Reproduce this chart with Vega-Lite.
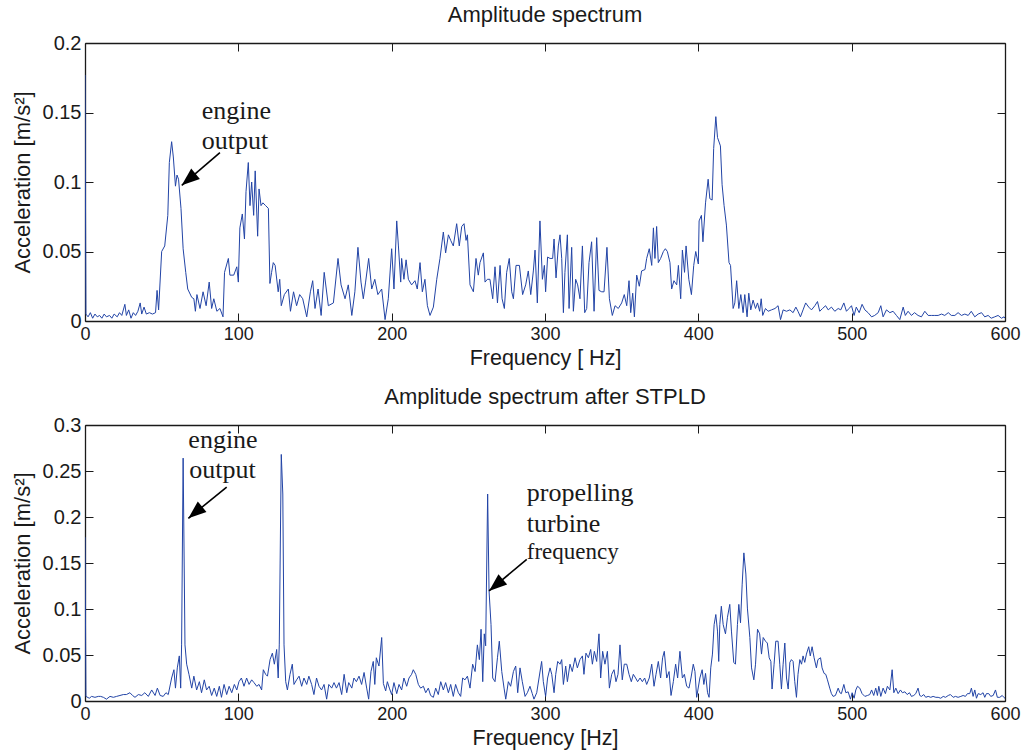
{
"$schema": "https://vega.github.io/schema/vega-lite/v6.json",
"background": "white",
"padding": {"left": 11, "top": 4, "right": 12, "bottom": 2},
"spacing": 17,
"config": {
  "font": "Liberation Sans",
  "view": {"stroke": null},
  "axis": {"domainColor": "#1a1a1a", "domainWidth": 1.3, "tickColor": "#1a1a1a", "tickSize": -8, "tickWidth": 1, "labelFont": "Liberation Sans", "labelFontSize": 18, "labelColor": "#1a1a1a", "titleFont": "Liberation Sans", "titleFontWeight": "normal", "titleColor": "#1a1a1a", "grid": false, "labelFlush": false, "labelOverlap": false},
  "axisX": {"labelPadding": 12},
  "axisY": {"labelPadding": 12},
  "title": {"font": "Liberation Sans", "fontSize": 22, "fontWeight": "normal", "color": "#1a1a1a", "anchor": "middle", "offset": 6}
},
"datasets": {
"top": [
{"f":0,"a":0.177},{"f":0.6,"a":0.005},{"f":2,"a":0.003},{"f":3.5,"a":0.006},{"f":5,"a":0.002},{"f":6.5,"a":0.005},{"f":8,"a":0.003},{"f":9.5,"a":0.004},{"f":11,"a":0.002},{"f":12.5,"a":0.005},{"f":14,"a":0.003},{"f":16,"a":0.004},{"f":17.5,"a":0.002},{"f":19,"a":0.005},{"f":21,"a":0.003},{"f":22.5,"a":0.006},{"f":24,"a":0.004},{"f":26,"a":0.012},{"f":27,"a":0.004},{"f":28.5,"a":0.008},{"f":30,"a":0.002},{"f":31.5,"a":0.006},{"f":33,"a":0.004},{"f":34.5,"a":0.007},{"f":36,"a":0.013},{"f":37,"a":0.005},{"f":38.5,"a":0.01},{"f":40,"a":0.005},{"f":42,"a":0.006},{"f":44,"a":0.005},{"f":46,"a":0.006},{"f":47,"a":0.022},{"f":48,"a":0.008},{"f":50,"a":0.05},{"f":52,"a":0.054},{"f":54,"a":0.076},{"f":55,"a":0.114},{"f":56.5,"a":0.129},{"f":57.6,"a":0.118},{"f":59,"a":0.097},{"f":60,"a":0.105},{"f":61,"a":0.102},{"f":62.6,"a":0.081},{"f":64,"a":0.052},{"f":65.7,"a":0.035},{"f":67,"a":0.023},{"f":69.6,"a":0.017},{"f":71,"a":0.016},{"f":72,"a":0.007},{"f":73,"a":0.019},{"f":75,"a":0.009},{"f":77,"a":0.021},{"f":79,"a":0.011},{"f":81,"a":0.028},{"f":82.6,"a":0.009},{"f":84,"a":0.016},{"f":86,"a":0.007},{"f":88,"a":0.009},{"f":90,"a":0.003},{"f":91,"a":0.035},{"f":93.5,"a":0.045},{"f":94.5,"a":0.033},{"f":97,"a":0.033},{"f":99,"a":0.039},{"f":100,"a":0.028},{"f":101,"a":0.067},{"f":102.6,"a":0.077},{"f":104,"a":0.059},{"f":105,"a":0.093},{"f":106.5,"a":0.114},{"f":107.6,"a":0.083},{"f":108.7,"a":0.1},{"f":110,"a":0.076},{"f":111,"a":0.108},{"f":112.6,"a":0.061},{"f":113.5,"a":0.095},{"f":114.8,"a":0.083},{"f":116,"a":0.085},{"f":117.8,"a":0.083},{"f":119.6,"a":0.081},{"f":120.6,"a":0.027},{"f":121.7,"a":0.035},{"f":122.8,"a":0.042},{"f":124,"a":0.04},{"f":126,"a":0.021},{"f":127,"a":0.03},{"f":128,"a":0.011},{"f":130,"a":0.019},{"f":132.6,"a":0.023},{"f":134,"a":0.007},{"f":136,"a":0.021},{"f":138,"a":0.011},{"f":140,"a":0.019},{"f":142,"a":0.016},{"f":144.6,"a":0.003},{"f":147,"a":0.021},{"f":148.5,"a":0.029},{"f":150,"a":0.009},{"f":152,"a":0.023},{"f":154,"a":0.004},{"f":156,"a":0.035},{"f":158.7,"a":0.011},{"f":162,"a":0.013},{"f":165,"a":0.045},{"f":167,"a":0.026},{"f":169.6,"a":0.016},{"f":171.7,"a":0.026},{"f":174,"a":0.004},{"f":176,"a":0.021},{"f":178,"a":0.053},{"f":180,"a":0.028},{"f":181.5,"a":0.016},{"f":183,"a":0.028},{"f":185,"a":0.045},{"f":187,"a":0.023},{"f":189,"a":0.03},{"f":191,"a":0.019},{"f":193.5,"a":0.023},{"f":195.7,"a":0.001},{"f":197.8,"a":0.016},{"f":200,"a":0.052},{"f":201.5,"a":0.023},{"f":203.3,"a":0.072},{"f":204.4,"a":0.054},{"f":205.9,"a":0.028},{"f":206.5,"a":0.045},{"f":208,"a":0.03},{"f":209.4,"a":0.044},{"f":210.9,"a":0.03},{"f":213,"a":0.026},{"f":215.2,"a":0.029},{"f":216.7,"a":0.023},{"f":218.5,"a":0.042},{"f":220,"a":0.021},{"f":221.7,"a":0.03},{"f":223.3,"a":0.011},{"f":225,"a":0.004},{"f":227.2,"a":0.01},{"f":229.4,"a":0.03},{"f":231.5,"a":0.045},{"f":233.7,"a":0.064},{"f":235.2,"a":0.049},{"f":237,"a":0.062},{"f":238.5,"a":0.058},{"f":240.2,"a":0.054},{"f":242.4,"a":0.07},{"f":244.1,"a":0.054},{"f":245.7,"a":0.068},{"f":247.2,"a":0.07},{"f":248.5,"a":0.058},{"f":249.4,"a":0.062},{"f":251.1,"a":0.026},{"f":253.3,"a":0.021},{"f":255,"a":0.045},{"f":256.5,"a":0.033},{"f":257.6,"a":0.042},{"f":259.8,"a":0.049},{"f":260.9,"a":0.028},{"f":262.4,"a":0.03},{"f":264.1,"a":0.03},{"f":265.9,"a":0.016},{"f":267.4,"a":0.039},{"f":269,"a":0.013},{"f":270.7,"a":0.04},{"f":272,"a":0.016},{"f":273.5,"a":0.009},{"f":275,"a":0.035},{"f":276.7,"a":0.045},{"f":278.3,"a":0.021},{"f":279.4,"a":0.016},{"f":281.1,"a":0.04},{"f":283.3,"a":0.04},{"f":285.4,"a":0.019},{"f":287.4,"a":0.026},{"f":289.1,"a":0.036},{"f":290.7,"a":0.019},{"f":292.4,"a":0.036},{"f":293.5,"a":0.051},{"f":295,"a":0.013},{"f":296.7,"a":0.072},{"f":298.3,"a":0.03},{"f":299.6,"a":0.04},{"f":300.4,"a":0.021},{"f":301.7,"a":0.046},{"f":303.3,"a":0.045},{"f":305,"a":0.045},{"f":305.9,"a":0.059},{"f":307.2,"a":0.031},{"f":308.7,"a":0.054},{"f":309.8,"a":0.062},{"f":310.9,"a":0.045},{"f":312,"a":0.006},{"f":313,"a":0.035},{"f":314.6,"a":0.062},{"f":315.7,"a":0.009},{"f":317.4,"a":0.053},{"f":318.5,"a":0.007},{"f":320,"a":0.03},{"f":321.3,"a":0.026},{"f":322.8,"a":0.016},{"f":324.4,"a":0.054},{"f":325.9,"a":0.006},{"f":327.2,"a":0.009},{"f":328.7,"a":0.042},{"f":330.4,"a":0.057},{"f":332,"a":0.007},{"f":333.7,"a":0.06},{"f":335.2,"a":0.022},{"f":337,"a":0.021},{"f":338.5,"a":0.021},{"f":340.4,"a":0.053},{"f":342,"a":0.016},{"f":343.9,"a":0.004},{"f":345.7,"a":0.011},{"f":347.8,"a":0.009},{"f":350,"a":0.013},{"f":351.7,"a":0.019},{"f":353.3,"a":0.011},{"f":354.8,"a":0.029},{"f":355.9,"a":0.006},{"f":357.2,"a":0.02},{"f":358.3,"a":0.003},{"f":359.8,"a":0.033},{"f":361.5,"a":0.025},{"f":363,"a":0.036},{"f":365.2,"a":0.037},{"f":366.3,"a":0.045},{"f":368,"a":0.052},{"f":369.6,"a":0.04},{"f":370.7,"a":0.067},{"f":371.7,"a":0.045},{"f":372.8,"a":0.068},{"f":373.9,"a":0.042},{"f":375.4,"a":0.045},{"f":377.2,"a":0.05},{"f":378.5,"a":0.052},{"f":379.8,"a":0.05},{"f":381.5,"a":0.042},{"f":382.6,"a":0.023},{"f":384.1,"a":0.029},{"f":385.9,"a":0.026},{"f":387,"a":0.04},{"f":388.5,"a":0.016},{"f":389.6,"a":0.051},{"f":391,"a":0.035},{"f":392,"a":0.054},{"f":393.8,"a":0.03},{"f":395.5,"a":0.019},{"f":397,"a":0.04},{"f":398.3,"a":0.05},{"f":400,"a":0.041},{"f":400.5,"a":0.072},{"f":402,"a":0.076},{"f":403,"a":0.057},{"f":404.7,"a":0.085},{"f":406.4,"a":0.102},{"f":407.5,"a":0.088},{"f":409,"a":0.087},{"f":410,"a":0.124},{"f":411.4,"a":0.147},{"f":412.5,"a":0.132},{"f":414.4,"a":0.126},{"f":415.5,"a":0.098},{"f":416.8,"a":0.083},{"f":418.3,"a":0.069},{"f":420,"a":0.042},{"f":421,"a":0.04},{"f":422.7,"a":0.009},{"f":423.8,"a":0.013},{"f":425,"a":0.029},{"f":426.4,"a":0.009},{"f":427.7,"a":0.019},{"f":429.2,"a":0.006},{"f":430.3,"a":0.019},{"f":431.8,"a":0.003},{"f":432.9,"a":0.02},{"f":434.2,"a":0.008},{"f":435.7,"a":0.015},{"f":437.3,"a":0.009},{"f":438.6,"a":0.013},{"f":440,"a":0.007},{"f":441,"a":0.016},{"f":442,"a":0.004},{"f":443.8,"a":0.009},{"f":445.5,"a":0.007},{"f":447.7,"a":0.008},{"f":450,"a":0.009},{"f":452,"a":0.011},{"f":453.6,"a":0.001},{"f":455.3,"a":0.008},{"f":457.5,"a":0.007},{"f":459.7,"a":0.008},{"f":461.8,"a":0.006},{"f":463.6,"a":0.01},{"f":465,"a":0.007},{"f":466.6,"a":0.003},{"f":468.3,"a":0.008},{"f":470,"a":0.013},{"f":472,"a":0.01},{"f":473.8,"a":0.008},{"f":476,"a":0.011},{"f":477.7,"a":0.014},{"f":479.2,"a":0.007},{"f":481,"a":0.009},{"f":483,"a":0.011},{"f":484.7,"a":0.008},{"f":486.8,"a":0.01},{"f":489,"a":0.007},{"f":491.2,"a":0.009},{"f":492.9,"a":0.008},{"f":494.9,"a":0.013},{"f":496.6,"a":0.007},{"f":498.3,"a":0.009},{"f":499.9,"a":0.011},{"f":501.6,"a":0.004},{"f":503,"a":0.01},{"f":504.9,"a":0.006},{"f":506.8,"a":0.012},{"f":508.6,"a":0.008},{"f":510.7,"a":0.006},{"f":513,"a":0.003},{"f":515,"a":0.004},{"f":517.3,"a":0.006},{"f":519,"a":0.011},{"f":520.5,"a":0.003},{"f":522.7,"a":0.008},{"f":524.9,"a":0.006},{"f":527,"a":0.007},{"f":529.2,"a":0.004},{"f":531.4,"a":0.001},{"f":533.6,"a":0.01},{"f":535,"a":0.004},{"f":536.8,"a":0.007},{"f":539,"a":0.004},{"f":541,"a":0.006},{"f":543.3,"a":0.004},{"f":545.5,"a":0.003},{"f":547.7,"a":0.007},{"f":549.9,"a":0.004},{"f":552,"a":0.004},{"f":554.2,"a":0.004},{"f":556.4,"a":0.004},{"f":558.6,"a":0.005},{"f":560.7,"a":0.004},{"f":563,"a":0.006},{"f":565,"a":0.004},{"f":567.3,"a":0.004},{"f":569.4,"a":0.006},{"f":571.6,"a":0.004},{"f":573.8,"a":0.005},{"f":576,"a":0.004},{"f":578,"a":0.007},{"f":580.3,"a":0.003},{"f":582.5,"a":0.005},{"f":584.7,"a":0.006},{"f":586.8,"a":0.003},{"f":589,"a":0.004},{"f":591,"a":0.002},{"f":593.3,"a":0.003},{"f":595.5,"a":0.004},{"f":597.7,"a":0.002},{"f":599.4,"a":0.003},{"f":600,"a":0.002}
],
"bottom": [
{"f":0,"a":0.178},{"f":0.6,"a":0.005},{"f":2.8,"a":0.003},{"f":4.3,"a":0.005},{"f":6.5,"a":0.004},{"f":8.7,"a":0.005},{"f":10.2,"a":0.005},{"f":12,"a":0.004},{"f":14,"a":0.002},{"f":16.3,"a":0.005},{"f":18.5,"a":0.004},{"f":20.6,"a":0.005},{"f":22.8,"a":0.006},{"f":25,"a":0.007},{"f":27,"a":0.007},{"f":29.3,"a":0.009},{"f":31,"a":0.006},{"f":32.6,"a":0.004},{"f":34.8,"a":0.007},{"f":37,"a":0.006},{"f":39,"a":0.009},{"f":41.3,"a":0.005},{"f":43.5,"a":0.012},{"f":45.7,"a":0.006},{"f":47.2,"a":0.014},{"f":49,"a":0.006},{"f":51,"a":0.005},{"f":52.8,"a":0.009},{"f":54.3,"a":0.007},{"f":56.5,"a":0.025},{"f":58,"a":0.034},{"f":59,"a":0.014},{"f":60.2,"a":0.036},{"f":61.5,"a":0.049},{"f":62.4,"a":0.014},{"f":63,"a":0.061},{"f":64,"a":0.264},{"f":65.2,"a":0.061},{"f":66.3,"a":0.04},{"f":67.8,"a":0.029},{"f":69.6,"a":0.014},{"f":71,"a":0.027},{"f":72.8,"a":0.012},{"f":74.6,"a":0.021},{"f":76,"a":0.009},{"f":77.8,"a":0.023},{"f":79.3,"a":0.012},{"f":81,"a":0.016},{"f":82.6,"a":0.006},{"f":84.3,"a":0.014},{"f":85.9,"a":0.005},{"f":87.6,"a":0.016},{"f":89,"a":0.004},{"f":90.7,"a":0.018},{"f":92.4,"a":0.007},{"f":94,"a":0.016},{"f":95.7,"a":0.009},{"f":97.4,"a":0.018},{"f":99,"a":0.012},{"f":100.4,"a":0.021},{"f":102,"a":0.025},{"f":103.7,"a":0.016},{"f":105.4,"a":0.025},{"f":107,"a":0.018},{"f":108.7,"a":0.023},{"f":110.2,"a":0.02},{"f":112,"a":0.016},{"f":113.5,"a":0.018},{"f":115.2,"a":0.012},{"f":116.3,"a":0.034},{"f":117.8,"a":0.029},{"f":119,"a":0.027},{"f":120.7,"a":0.045},{"f":122.2,"a":0.052},{"f":123.5,"a":0.04},{"f":125,"a":0.056},{"f":126,"a":0.025},{"f":126.7,"a":0.061},{"f":128,"a":0.268},{"f":129,"a":0.225},{"f":129.8,"a":0.061},{"f":130.9,"a":0.021},{"f":132,"a":0.012},{"f":133.7,"a":0.029},{"f":135.2,"a":0.04},{"f":136.3,"a":0.018},{"f":138,"a":0.023},{"f":139.6,"a":0.027},{"f":141.3,"a":0.016},{"f":142.8,"a":0.025},{"f":144.6,"a":0.018},{"f":146,"a":0.027},{"f":147.8,"a":0.018},{"f":149.3,"a":0.007},{"f":151,"a":0.025},{"f":152.6,"a":0.016},{"f":154.3,"a":0.012},{"f":155.9,"a":0.018},{"f":157.6,"a":0.002},{"f":159,"a":0.018},{"f":160.9,"a":0.014},{"f":162.4,"a":0.02},{"f":164,"a":0.014},{"f":165.7,"a":0.02},{"f":167.4,"a":0.007},{"f":169,"a":0.029},{"f":170.7,"a":0.009},{"f":172,"a":0.02},{"f":174,"a":0.014},{"f":175.4,"a":0.025},{"f":177,"a":0.021},{"f":178.7,"a":0.027},{"f":180.4,"a":0.018},{"f":182,"a":0.031},{"f":183.7,"a":0.014},{"f":185,"a":0.002},{"f":186.5,"a":0.032},{"f":188,"a":0.043},{"f":189,"a":0.018},{"f":190,"a":0.047},{"f":191.7,"a":0.038},{"f":193.5,"a":0.069},{"f":194.6,"a":0.019},{"f":196.1,"a":0.011},{"f":197.2,"a":0.021},{"f":198.5,"a":0.014},{"f":200,"a":0.007},{"f":201.5,"a":0.02},{"f":203.3,"a":0.008},{"f":204.8,"a":0.018},{"f":206.5,"a":0.012},{"f":208,"a":0.025},{"f":209.8,"a":0.016},{"f":211.3,"a":0.025},{"f":213,"a":0.029},{"f":214.1,"a":0.034},{"f":215.7,"a":0.029},{"f":217.4,"a":0.018},{"f":218.9,"a":0.014},{"f":220.7,"a":0.016},{"f":222.2,"a":0.009},{"f":223.9,"a":0.014},{"f":225.4,"a":0.006},{"f":227.2,"a":0.004},{"f":228.7,"a":0.014},{"f":230.4,"a":0.007},{"f":232,"a":0.021},{"f":233.7,"a":0.012},{"f":235.2,"a":0.02},{"f":237,"a":0.009},{"f":238.5,"a":0.018},{"f":240.2,"a":0.005},{"f":241.7,"a":0.018},{"f":243.5,"a":0.009},{"f":245,"a":0.005},{"f":246.3,"a":0.025},{"f":247.8,"a":0.023},{"f":249.4,"a":0.027},{"f":251.1,"a":0.014},{"f":252.8,"a":0.04},{"f":254.4,"a":0.032},{"f":255.9,"a":0.061},{"f":257.2,"a":0.045},{"f":258.3,"a":0.078},{"f":259.4,"a":0.021},{"f":260.4,"a":0.073},{"f":261.3,"a":0.06},{"f":262.6,"a":0.225},{"f":263.5,"a":0.12},{"f":264.8,"a":0.083},{"f":265.9,"a":0.025},{"f":267.4,"a":0.021},{"f":269,"a":0.047},{"f":270.2,"a":0.065},{"f":271.8,"a":0.032},{"f":273.3,"a":0.014},{"f":274.4,"a":0.002},{"f":276.1,"a":0.021},{"f":277.6,"a":0.016},{"f":279.4,"a":0.032},{"f":280.9,"a":0.038},{"f":282.2,"a":0.009},{"f":283.7,"a":0.036},{"f":285.2,"a":0.021},{"f":287,"a":0.005},{"f":288.5,"a":0.009},{"f":290.2,"a":0.016},{"f":291.7,"a":0.008},{"f":292.8,"a":0.002},{"f":294.6,"a":0.009},{"f":296.1,"a":0.025},{"f":297.8,"a":0.043},{"f":298.9,"a":0.021},{"f":300.4,"a":0.005},{"f":301.7,"a":0.025},{"f":303.3,"a":0.036},{"f":304.4,"a":0.029},{"f":305.9,"a":0.009},{"f":307,"a":0.029},{"f":308.3,"a":0.043},{"f":309.8,"a":0.04},{"f":310.9,"a":0.045},{"f":312,"a":0.018},{"f":313.5,"a":0.038},{"f":314.6,"a":0.021},{"f":316.3,"a":0.04},{"f":317.8,"a":0.032},{"f":319.6,"a":0.047},{"f":321.1,"a":0.036},{"f":322.8,"a":0.045},{"f":324.4,"a":0.049},{"f":325.4,"a":0.029},{"f":326.7,"a":0.052},{"f":328.3,"a":0.047},{"f":329.8,"a":0.056},{"f":330.9,"a":0.04},{"f":332.2,"a":0.054},{"f":333.7,"a":0.043},{"f":335.2,"a":0.073},{"f":336.3,"a":0.025},{"f":337.6,"a":0.054},{"f":339.1,"a":0.04},{"f":340.7,"a":0.054},{"f":342,"a":0.014},{"f":343.5,"a":0.029},{"f":345,"a":0.034},{"f":346.3,"a":0.021},{"f":347.6,"a":0.029},{"f":348.9,"a":0.061},{"f":350.4,"a":0.023},{"f":351.7,"a":0.04},{"f":353.3,"a":0.04},{"f":354.8,"a":0.029},{"f":356.3,"a":0.021},{"f":357.6,"a":0.029},{"f":359.1,"a":0.025},{"f":360.4,"a":0.021},{"f":362,"a":0.025},{"f":363.5,"a":0.021},{"f":365,"a":0.025},{"f":366.3,"a":0.018},{"f":368,"a":0.025},{"f":369.6,"a":0.04},{"f":371.1,"a":0.016},{"f":372.4,"a":0.029},{"f":373.9,"a":0.043},{"f":375.4,"a":0.025},{"f":376.7,"a":0.047},{"f":377.8,"a":0.054},{"f":379.4,"a":0.025},{"f":380.9,"a":0.032},{"f":382.2,"a":0.006},{"f":383.7,"a":0.021},{"f":385.2,"a":0.04},{"f":386.5,"a":0.025},{"f":388,"a":0.054},{"f":389.6,"a":0.025},{"f":390.9,"a":0.029},{"f":392.4,"a":0.016},{"f":393.9,"a":0.014},{"f":395.2,"a":0.025},{"f":396.7,"a":0.04},{"f":397.8,"a":0.032},{"f":398.9,"a":0.004},{"f":401,"a":0.025},{"f":402.5,"a":0.034},{"f":403.6,"a":0.018},{"f":404.7,"a":0.03},{"f":406,"a":0.009},{"f":407,"a":0.004},{"f":408.1,"a":0.036},{"f":409.2,"a":0.051},{"f":410.3,"a":0.083},{"f":411.4,"a":0.094},{"f":412.5,"a":0.076},{"f":413.3,"a":0.043},{"f":414,"a":0.083},{"f":415,"a":0.103},{"f":416.2,"a":0.083},{"f":417.7,"a":0.073},{"f":419,"a":0.091},{"f":420.5,"a":0.105},{"f":421.6,"a":0.076},{"f":423.1,"a":0.042},{"f":424.2,"a":0.04},{"f":425.5,"a":0.083},{"f":426.4,"a":0.105},{"f":427.5,"a":0.085},{"f":428.6,"a":0.127},{"f":429.7,"a":0.161},{"f":431,"a":0.138},{"f":432,"a":0.101},{"f":433.6,"a":0.069},{"f":434.7,"a":0.036},{"f":436.2,"a":0.023},{"f":437.3,"a":0.04},{"f":438.6,"a":0.078},{"f":440,"a":0.073},{"f":441.2,"a":0.051},{"f":442.3,"a":0.069},{"f":443.8,"a":0.065},{"f":445,"a":0.063},{"f":446.2,"a":0.047},{"f":447.3,"a":0.043},{"f":448.1,"a":0.013},{"f":449.4,"a":0.04},{"f":450.5,"a":0.065},{"f":452,"a":0.065},{"f":453.1,"a":0.04},{"f":454.2,"a":0.013},{"f":455.3,"a":0.04},{"f":456.4,"a":0.063},{"f":457.5,"a":0.025},{"f":458.6,"a":0.013},{"f":459.7,"a":0.042},{"f":460.7,"a":0.045},{"f":461.8,"a":0.043},{"f":462.9,"a":0.021},{"f":464,"a":0.004},{"f":465,"a":0.029},{"f":466.2,"a":0.045},{"f":467.3,"a":0.04},{"f":468.3,"a":0.049},{"f":469.4,"a":0.042},{"f":470.5,"a":0.051},{"f":472,"a":0.059},{"f":473,"a":0.049},{"f":474.2,"a":0.059},{"f":475.5,"a":0.047},{"f":477,"a":0.036},{"f":478,"a":0.045},{"f":479.7,"a":0.047},{"f":480.7,"a":0.036},{"f":482,"a":0.03},{"f":483.1,"a":0.029},{"f":484.2,"a":0.023},{"f":485.7,"a":0.014},{"f":486.8,"a":0.008},{"f":487.9,"a":0.005},{"f":489.4,"a":0.006},{"f":491.2,"a":0.014},{"f":492.3,"a":0.009},{"f":493.3,"a":0.008},{"f":494.9,"a":0.018},{"f":496.2,"a":0.009},{"f":497.7,"a":0.01},{"f":499.2,"a":0.002},{"f":500.3,"a":0.009},{"f":501.6,"a":0.003},{"f":502.7,"a":0.012},{"f":503.8,"a":0.016},{"f":505.3,"a":0.014},{"f":506.8,"a":0.008},{"f":508.6,"a":0.005},{"f":510.3,"a":0.006},{"f":511.8,"a":0.007},{"f":513,"a":0.012},{"f":514.4,"a":0.006},{"f":515.7,"a":0.014},{"f":516.8,"a":0.006},{"f":517.7,"a":0.016},{"f":519,"a":0.005},{"f":520.5,"a":0.014},{"f":522,"a":0.008},{"f":523.3,"a":0.016},{"f":524.9,"a":0.012},{"f":526.4,"a":0.034},{"f":527.5,"a":0.009},{"f":528.8,"a":0.014},{"f":530.3,"a":0.008},{"f":531.8,"a":0.012},{"f":533.1,"a":0.009},{"f":534.7,"a":0.01},{"f":536.2,"a":0.007},{"f":537.7,"a":0.009},{"f":539,"a":0.005},{"f":540.5,"a":0.006},{"f":541.8,"a":0.008},{"f":543.3,"a":0.014},{"f":544.4,"a":0.006},{"f":545.5,"a":0.005},{"f":547,"a":0.007},{"f":548.3,"a":0.004},{"f":549.9,"a":0.005},{"f":551.6,"a":0.004},{"f":553.1,"a":0.005},{"f":554.9,"a":0.004},{"f":556.4,"a":0.004},{"f":558.1,"a":0.003},{"f":559.7,"a":0.005},{"f":561.2,"a":0.004},{"f":563,"a":0.006},{"f":564.4,"a":0.007},{"f":566.2,"a":0.004},{"f":567.7,"a":0.005},{"f":569.4,"a":0.004},{"f":571.2,"a":0.005},{"f":572.7,"a":0.006},{"f":574.2,"a":0.005},{"f":575.5,"a":0.008},{"f":577,"a":0.008},{"f":578.1,"a":0.014},{"f":579.2,"a":0.005},{"f":580.3,"a":0.012},{"f":581.4,"a":0.003},{"f":582.5,"a":0.008},{"f":584.2,"a":0.007},{"f":585.7,"a":0.009},{"f":586.8,"a":0.004},{"f":587.9,"a":0.008},{"f":589.4,"a":0.008},{"f":590.7,"a":0.005},{"f":592.3,"a":0.006},{"f":593.8,"a":0.012},{"f":595,"a":0.004},{"f":596.6,"a":0.004},{"f":598.2,"a":0.006},{"f":599.2,"a":0.004},{"f":600,"a":0.003}
],
"topText": [{"f":76.1,"a":0.1453,"t":"engine"},{"f":76.1,"a":0.1237,"t":"output"}],
"topArrow": [{"f":88.0,"a":0.1211,"f2":63.1,"a2":0.0976}],
"botText": [{"f":67.4,"a":0.2747,"t":"engine"},{"f":68,"a":0.2427,"t":"output"},{"f":288.1,"a":0.2174,"t":"propelling"},{"f":288.1,"a":0.184,"t":"turbine"}],
"botText2": [{"f":288.1,"a":0.1547,"t":"frequency"}],
"botArrow": [{"f":92.4,"a":0.2326,"f2":67.4,"a2":0.1986},{"f":288.1,"a":0.154,"f2":263.5,"a2":0.1196}],
"dummy": [{"f":0,"a":0}]
},
"vconcat": [
{
  "width": 920, "height": 278,
  "title": {"text": "Amplitude spectrum"},
  "resolve": {"axis": {"x": "independent", "y": "independent"}},
  "layer": [
    {"data": {"name": "top"}, "mark": {"type": "line", "color": "#2244a6", "strokeWidth": 1, "clip": true},
     "encoding": {
       "x": {"field": "f", "type": "quantitative", "scale": {"domain": [0, 600], "nice": false, "zero": false}, "axis": {"orient": "bottom", "title": "Frequency [ Hz]", "titleFontSize": 21.5, "titlePadding": 4, "values": [0,100,200,300,400,500,600], "format": "d"}},
       "y": {"field": "a", "type": "quantitative", "scale": {"domain": [0, 0.2], "nice": false}, "axis": {"orient": "left", "title": "Acceleration [m/s²]", "titleFontSize": 22, "titlePadding": 8, "labelFontSize": 20, "values": [0,0.05,0.1,0.15,0.2], "format": ".2~f"}}
     }},
    {"data": {"name": "dummy"}, "mark": {"type": "point", "opacity": 0},
     "encoding": {
       "x": {"field": "f", "type": "quantitative", "scale": {"domain": [0, 600], "nice": false}, "axis": {"orient": "top", "labels": false, "title": null, "values": [0,100,200,300,400,500,600]}},
       "y": {"field": "a", "type": "quantitative", "scale": {"domain": [0, 0.2], "nice": false}, "axis": {"orient": "right", "labels": false, "title": null, "values": [0,0.05,0.1,0.15,0.2]}}
     }},
    {"data": {"name": "topArrow"}, "mark": {"type": "rule", "color": "black", "strokeWidth": 1.6},
     "encoding": {"x": {"field": "f", "type": "quantitative", "axis": null}, "y": {"field": "a", "type": "quantitative", "axis": null}, "x2": {"field": "f2"}, "y2": {"field": "a2"}}},
    {"data": {"name": "topArrow"}, "mark": {"type": "point", "shape": "M0,0L0.75,2L-0.75,2Z", "filled": true, "color": "black", "opacity": 1, "size": 324, "angle": 230},
     "encoding": {"x": {"field": "f2", "type": "quantitative", "axis": null}, "y": {"field": "a2", "type": "quantitative", "axis": null}}},
    {"data": {"name": "topText"}, "mark": {"type": "text", "font": "Liberation Serif", "fontSize": 26, "align": "left", "baseline": "alphabetic", "color": "#1a1a1a"},
     "encoding": {"x": {"field": "f", "type": "quantitative", "axis": null}, "y": {"field": "a", "type": "quantitative", "axis": null}, "text": {"field": "t"}}}
  ]
},
{
  "width": 920, "height": 276,
  "title": {"text": "Amplitude spectrum after STPLD"},
  "resolve": {"axis": {"x": "independent", "y": "independent"}},
  "layer": [
    {"data": {"name": "bottom"}, "mark": {"type": "line", "color": "#2244a6", "strokeWidth": 1, "clip": true},
     "encoding": {
       "x": {"field": "f", "type": "quantitative", "scale": {"domain": [0, 600], "nice": false, "zero": false}, "axis": {"orient": "bottom", "title": "Frequency [Hz]", "titleFontSize": 21.5, "titlePadding": 4, "values": [0,100,200,300,400,500,600], "format": "d"}},
       "y": {"field": "a", "type": "quantitative", "scale": {"domain": [0, 0.3], "nice": false}, "axis": {"orient": "left", "title": "Acceleration [m/s²]", "titleFontSize": 22, "titlePadding": 8, "labelFontSize": 20, "values": [0,0.05,0.1,0.15,0.2,0.25,0.3], "format": ".2~f"}}
     }},
    {"data": {"name": "dummy"}, "mark": {"type": "point", "opacity": 0},
     "encoding": {
       "x": {"field": "f", "type": "quantitative", "scale": {"domain": [0, 600], "nice": false}, "axis": {"orient": "top", "labels": false, "title": null, "values": [0,100,200,300,400,500,600]}},
       "y": {"field": "a", "type": "quantitative", "scale": {"domain": [0, 0.3], "nice": false}, "axis": {"orient": "right", "labels": false, "title": null, "values": [0,0.05,0.1,0.15,0.2,0.25,0.3]}}
     }},
    {"data": {"name": "botArrow"}, "mark": {"type": "rule", "color": "black", "strokeWidth": 1.6},
     "encoding": {"x": {"field": "f", "type": "quantitative", "axis": null}, "y": {"field": "a", "type": "quantitative", "axis": null}, "x2": {"field": "f2"}, "y2": {"field": "a2"}}},
    {"data": {"name": "botArrow"}, "mark": {"type": "point", "shape": "M0,0L0.75,2L-0.75,2Z", "filled": true, "color": "black", "opacity": 1, "size": 324, "angle": 230},
     "encoding": {"x": {"field": "f2", "type": "quantitative", "axis": null}, "y": {"field": "a2", "type": "quantitative", "axis": null}}},
    {"data": {"name": "botText"}, "mark": {"type": "text", "font": "Liberation Serif", "fontSize": 26, "align": "left", "baseline": "alphabetic", "color": "#1a1a1a"},
     "encoding": {"x": {"field": "f", "type": "quantitative", "axis": null}, "y": {"field": "a", "type": "quantitative", "axis": null}, "text": {"field": "t"}}},
    {"data": {"name": "botText2"}, "mark": {"type": "text", "font": "Liberation Serif", "fontSize": 23, "align": "left", "baseline": "alphabetic", "color": "#1a1a1a"},
     "encoding": {"x": {"field": "f", "type": "quantitative", "axis": null}, "y": {"field": "a", "type": "quantitative", "axis": null}, "text": {"field": "t"}}}
  ]
}
]
}
